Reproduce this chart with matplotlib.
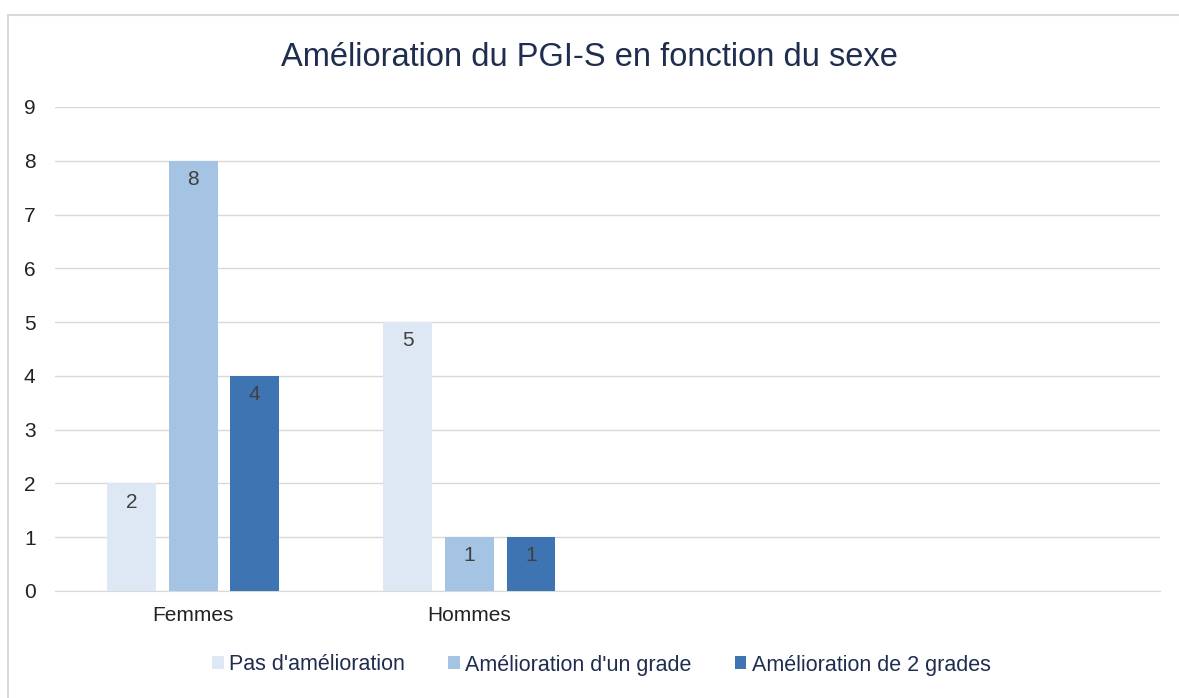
import matplotlib as mpl
import numpy as np
from matplotlib import pyplot as plt
from matplotlib.patches import Rectangle

plt.rcParams['font.family'] = ['Liberation Sans', 'DejaVu Sans']

categories = ['Femmes', 'Hommes', '', '']
series_names = ["Pas d'amélioration", "Amélioration d'un grade", "Amélioration de 2 grades"]
pas_amelioration = [2, 5]
un_grade = [8, 1]
deux_grades = [4, 1]
colors = ['#DDE8F4', '#A5C3E2', '#3F74B2']

fig = plt.figure(figsize=(11.79, 6.98), dpi=100)
ax = fig.add_axes([55 / 1179, 1 - 591 / 698, 1105 / 1179, 484 / 698])

# chart border, like the Excel chart frame
fig.patches.append(Rectangle((8 / 1179, -0.05), 1.2, 1 - 15 / 698 + 0.05,
                             transform=fig.transFigure, fill=False,
                             edgecolor='#D9D9D9', linewidth=1.5))

x = np.arange(len(categories))
width = 0.177
step = 0.223
for i, (vals, name) in enumerate(zip([pas_amelioration, un_grade, deux_grades], series_names)):
    pos = x[:len(vals)] + (i - 1) * step
    bars = ax.bar(pos, vals, width, color=colors[i], label=name, zorder=3)
    for b, v in zip(bars, vals):
        ax.text(b.get_x() + b.get_width() / 2, v - 0.17, str(v), ha='center', va='top',
                fontsize=15, color='#404040', zorder=4)

ax.set_xlim(-0.5, len(categories) - 0.5)
ax.set_ylim(0, 9)
ax.set_yticks(range(10))
ax.set_xticks(x[:2])
ax.set_xticklabels(categories[:2])
ax.grid(axis='y', color='#D9D9D9', linewidth=1, zorder=0)
for s in ['top', 'right', 'left']:
    ax.spines[s].set_visible(False)
ax.spines['bottom'].set_color('#D9D9D9')
ax.tick_params(axis='both', length=0, labelsize=15, colors='#222222')
ax.tick_params(axis='y', pad=14)
ax.tick_params(axis='x', pad=11)

fig.text(0.5, 1 - 57 / 698, 'Amélioration du PGI-S en fonction du sexe', ha='center', va='center',
         fontsize=23.5, color='#1F2D4E')

fig.legend(loc='center', bbox_to_anchor=(0.51, 1 - 665 / 698), ncol=3, frameon=False,
           fontsize=15.5, handlelength=0.55, handleheight=0.55, handletextpad=0.25,
           columnspacing=2.0, labelcolor='#1F2D4E')

fig.savefig('out.png', dpi=100)
